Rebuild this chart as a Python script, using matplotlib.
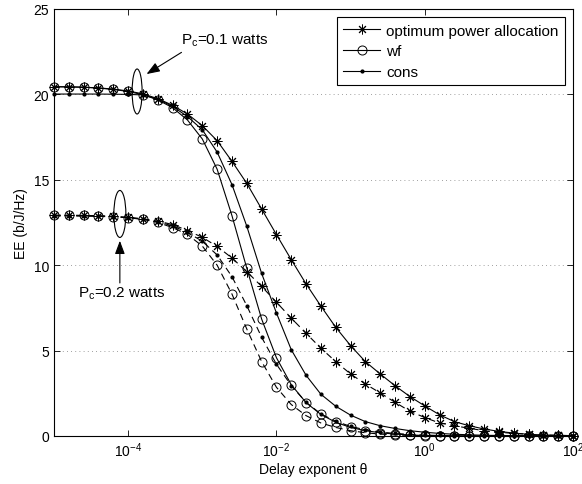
import matplotlib
matplotlib.use('Agg')
import matplotlib.pyplot as plt
from matplotlib.patches import Ellipse
from matplotlib.transforms import ScaledTranslation
from matplotlib.ticker import NullLocator

plt.rcParams['font.family'] = ['Liberation Sans', 'DejaVu Sans']
plt.rcParams['mathtext.fontset'] = 'custom'
plt.rcParams['mathtext.rm'] = 'Liberation Sans'
plt.rcParams['mathtext.it'] = 'Liberation Sans:italic'
plt.rcParams['font.size'] = 10

# delay exponent grid (log10 of theta)
log_theta = [-5.0, -4.8, -4.6, -4.4, -4.2, -4.0, -3.8, -3.6, -3.4, -3.2,
             -3.0, -2.8, -2.6, -2.4, -2.2, -2.0, -1.8, -1.6, -1.4, -1.2,
             -1.0, -0.8, -0.6, -0.4, -0.2, 0.0, 0.2, 0.4, 0.6, 0.8,
             1.0, 1.2, 1.4, 1.6, 1.8, 2.0]
theta = [10 ** e for e in log_theta]

# Pc = 0.1 watts
opt_01 = [20.45, 20.44, 20.42, 20.38, 20.31, 20.2, 20.03, 19.75, 19.36, 18.85,
          18.17, 17.29, 16.08, 14.79, 13.29, 11.79, 10.32, 8.9, 7.6, 6.36,
          5.29, 4.35, 3.63, 2.94, 2.31, 1.76, 1.24, 0.84, 0.6, 0.41,
          0.27, 0.17, 0.1, 0.06, 0.03, 0.02]
wf_01 = [20.45, 20.44, 20.42, 20.37, 20.29, 20.17, 19.98, 19.68, 19.22, 18.5,
         17.39, 15.62, 12.9, 9.82, 6.85, 4.58, 3.0, 1.95, 1.26, 0.8,
         0.5, 0.31, 0.19, 0.11, 0.06, 0.03, 0.02, 0.01, 0.0, 0.0,
         0.0, 0.0, 0.0, 0.0, 0.0, 0.0]
cons_01 = [20.02, 20.02, 20.02, 20.02, 20.01, 20.0, 19.97, 19.72, 19.3, 18.7,
           17.93, 16.62, 14.72, 12.28, 9.52, 7.2, 5.05, 3.55, 2.44, 1.74,
           1.22, 0.84, 0.6, 0.44, 0.31, 0.22, 0.15, 0.1, 0.07, 0.04,
           0.03, 0.02, 0.01, 0.01, 0.0, 0.0]

# Pc = 0.2 watts
opt_02 = [12.92, 12.92, 12.91, 12.89, 12.86, 12.8, 12.72, 12.58, 12.38, 12.03,
          11.63, 11.1, 10.42, 9.62, 8.76, 7.83, 6.9, 6.01, 5.14, 4.35,
          3.63, 3.04, 2.52, 1.97, 1.45, 1.08, 0.76, 0.6, 0.45, 0.31,
          0.22, 0.15, 0.1, 0.06, 0.04, 0.02]
wf_02 = [12.92, 12.92, 12.91, 12.89, 12.85, 12.78, 12.68, 12.5, 12.2, 11.8,
         11.12, 10.0, 8.31, 6.26, 4.36, 2.85, 1.84, 1.19, 0.76, 0.5,
         0.31, 0.19, 0.11, 0.06, 0.03, 0.02, 0.01, 0.0, 0.0, 0.0,
         0.0, 0.0, 0.0, 0.0, 0.0, 0.0]
cons_02 = [12.88, 12.88, 12.87, 12.86, 12.83, 12.78, 12.7, 12.54, 12.3, 11.92,
           11.4, 10.6, 9.33, 7.63, 5.78, 4.2, 2.95, 1.97, 1.29, 0.86,
           0.56, 0.36, 0.23, 0.15, 0.09, 0.05, 0.03, 0.02, 0.01, 0.0,
           0.0, 0.0, 0.0, 0.0, 0.0, 0.0]

labels = ['optimum power allocation', 'wf', 'cons']
xtick_vals = [1e-4, 1e-2, 1e0, 1e2]
ytick_vals = [0, 5, 10, 15, 20, 25]

STAR = (8, 2, 0)  # 8-spoke asterisk like matlab '*'


def draw(y, mk, ls, label):
    if mk == '.':
        ax.plot(theta, y, color='k', lw=0.8, ls=ls, marker='.', ms=4,
                mfc='k', mec='k', label=label, clip_on=False, zorder=3)
    else:
        ms = 6.5 if mk == 'o' else 7
        ax.plot(theta, y, color='k', lw=0.8, ls=ls, marker=mk, ms=ms,
                mfc='none', mec='k', mew=0.7, label=label, clip_on=False,
                zorder=3)


def ring(x, y, w, h):
    # ellipse of fixed size (inches) centred on a data point
    tr = fig.dpi_scale_trans + ScaledTranslation(x, y, ax.transData)
    ax.add_artist(Ellipse((0, 0), w, h, transform=tr, fill=False,
                          ec='k', lw=0.8))


fig = plt.figure(figsize=(5.82, 4.85), dpi=100)
ax = fig.add_axes([0.0928, 0.099, 0.8918, 0.8804])
ax.set_xscale('log')

dash = (0, (6, 4))
draw(opt_01, STAR, '-', labels[0])
draw(wf_01, 'o', '-', labels[1])
draw(cons_01, '.', '-', labels[2])
draw(opt_02, STAR, dash, '_nolegend_')
draw(wf_02, 'o', dash, '_nolegend_')
draw(cons_02, '.', dash, '_nolegend_')

ax.set_xlim(1e-5, 1e2)
ax.set_ylim(0, 25)
ax.set_xticks(xtick_vals)
ax.xaxis.set_minor_locator(NullLocator())
ax.set_yticks(ytick_vals)
ax.yaxis.grid(True, ls=(0, (1, 4)), color='0.5', lw=0.6)
ax.tick_params(direction='in', top=True, right=True, length=4, width=0.6,
               labelsize=10)
for s in ax.spines.values():
    s.set_linewidth(0.8)

ax.set_xlabel('Delay exponent θ', fontsize=10, labelpad=2)
ax.set_ylabel('EE (b/J/Hz)', fontsize=10)

leg = ax.legend(loc='upper right', fancybox=False, edgecolor='k',
                framealpha=1, numpoints=1, handlelength=2.4,
                handletextpad=0.4, borderaxespad=0.55, labelspacing=0.45,
                fontsize=11)
leg.get_frame().set_linewidth(0.8)

# annotations
ring(1.32e-4, 20.17, 0.10, 0.45)
ring(7.73e-5, 13.0, 0.12, 0.47)

arrow = dict(arrowstyle='-|>,head_length=0.8,head_width=0.3', color='k',
             lw=0.8, shrinkA=0, shrinkB=0, mutation_scale=10)
ax.annotate('', xy=(1.77e-4, 21.19), xytext=(5.24e-4, 22.46),
            arrowprops=arrow)
ax.text(5.24e-4, 22.95, 'P$_{\\mathrm{c}}$=0.1 watts', fontsize=11)
ax.annotate('', xy=(7.73e-5, 11.43), xytext=(7.73e-5, 8.96),
            arrowprops=arrow)
ax.text(2.1e-5, 8.14, 'P$_{\\mathrm{c}}$=0.2 watts', fontsize=11)

fig.savefig('out.png', dpi=100)
